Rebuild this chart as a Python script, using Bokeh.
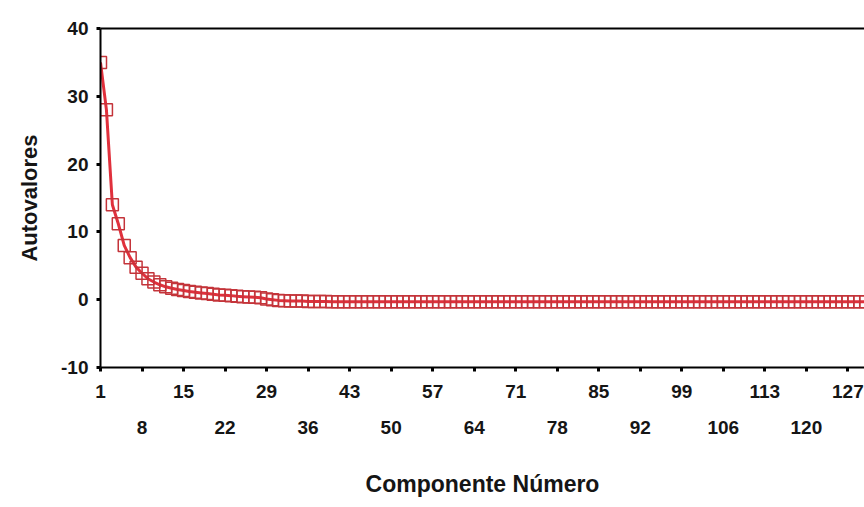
from bokeh.plotting import figure
from bokeh.models import LinearAxis, FixedTicker, Range1d, ColumnDataSource
from bokeh.embed import file_html
from bokeh.resources import INLINE

componentes = list(range(1, 131))
autovalores = [
    35.0, 28.0, 14.0, 11.2, 8.0, 6.2, 4.8, 3.9, 3.1, 2.6,
    2.2, 1.9, 1.7, 1.5, 1.35, 1.2, 1.1, 1.0, 0.9, 0.8,
    0.7, 0.65, 0.6, 0.5, 0.45, 0.4, 0.35, 0.3, 0.1, 0.0,
    -0.1, -0.15, -0.2, -0.2, -0.2, -0.25, -0.25, -0.25, -0.25, -0.3,
    -0.3, -0.3, -0.3, -0.3, -0.3, -0.3, -0.3, -0.3, -0.3, -0.3,
    -0.3, -0.3, -0.3, -0.3, -0.3, -0.3, -0.3, -0.3, -0.3, -0.3,
    -0.3, -0.3, -0.3, -0.3, -0.3, -0.3, -0.3, -0.3, -0.3, -0.3,
    -0.3, -0.3, -0.3, -0.3, -0.3, -0.3, -0.3, -0.3, -0.3, -0.3,
    -0.3, -0.3, -0.3, -0.3, -0.3, -0.3, -0.3, -0.3, -0.3, -0.3,
    -0.3, -0.3, -0.3, -0.3, -0.3, -0.3, -0.3, -0.3, -0.3, -0.3,
    -0.3, -0.3, -0.3, -0.3, -0.3, -0.3, -0.3, -0.3, -0.3, -0.3,
    -0.3, -0.3, -0.3, -0.3, -0.3, -0.3, -0.3, -0.3, -0.3, -0.3,
    -0.3, -0.3, -0.3, -0.3, -0.3, -0.3, -0.3, -0.3, -0.3, -0.3,
]

x_ticks_row1 = [1, 15, 29, 43, 57, 71, 85, 99, 113, 127]
x_ticks_row2 = [8, 22, 36, 50, 64, 78, 92, 106, 120]
y_ticks = [-10, 0, 10, 20, 30, 40]
y_tick_labels = ["-10", "0", "10", "20", "30", "40"]

FONT = "Liberation Sans"
TXT = "#151515"

p = figure(width=864, height=499,
           x_range=Range1d(1, 129.8), y_range=Range1d(-10, 40),
           output_backend="svg", toolbar_location=None,
           x_axis_location=None, y_axis_location=None,
           min_border_left=100, min_border_top=28,
           min_border_bottom=128, min_border_right=0)
p.xgrid.visible = False
p.ygrid.visible = False
p.outline_line_color = None
p.background_fill_color = "white"
p.border_fill_color = "white"

def style(ax):
    ax.axis_line_color = "black"
    ax.axis_line_width = 2
    ax.major_tick_line_color = "black"
    ax.major_tick_line_width = 3
    ax.major_tick_in = 0
    ax.major_tick_out = 4
    ax.minor_tick_line_color = None
    ax.major_label_text_font = FONT
    ax.major_label_text_font_style = "bold"
    ax.major_label_text_font_size = "19px"
    ax.major_label_text_color = TXT
    ax.axis_label_text_font = FONT
    ax.axis_label_text_font_style = "bold"
    ax.axis_label_text_font_size = "22px"
    ax.axis_label_text_color = TXT

# y axis
yax = LinearAxis(ticker=FixedTicker(ticks=y_ticks), axis_label="Autovalores",
                 major_label_overrides=dict(zip(y_ticks, y_tick_labels)))
style(yax)
yax.major_label_standoff = 8
yax.axis_label_standoff = 16
p.add_layout(yax, "left")

# top line
top = LinearAxis(ticker=FixedTicker(ticks=[]))
style(top)
top.major_tick_line_color = None
top.major_label_text_font_size = "0px"
p.add_layout(top, "above")

# x axis row 1 (all ticks, odd labels)
ax1 = LinearAxis(ticker=FixedTicker(ticks=sorted(x_ticks_row1 + x_ticks_row2)),
                 major_label_overrides={t: "" for t in x_ticks_row2})
style(ax1)
ax1.major_label_standoff = 13
p.add_layout(ax1, "below")

# x axis row 2 (staggered labels)
ax2 = LinearAxis(ticker=FixedTicker(ticks=x_ticks_row2), axis_label="Componente Número")
style(ax2)
ax2.axis_line_color = None
ax2.major_tick_line_color = None
ax2.major_tick_out = 0
ax2.major_label_standoff = 20
ax2.axis_label_standoff = 34
ax2.axis_label_text_font_size = "23px"
p.add_layout(ax2, "below")

src = ColumnDataSource(dict(x=componentes, y=autovalores))
p.line("x", "y", source=src, line_color="#e0303c", line_width=3)
p.scatter("x", "y", source=src, marker="square", size=12, fill_color=None,
          line_color="#c4343a", line_width=1.5)

open("out.html", "w").write(file_html(p, INLINE))
